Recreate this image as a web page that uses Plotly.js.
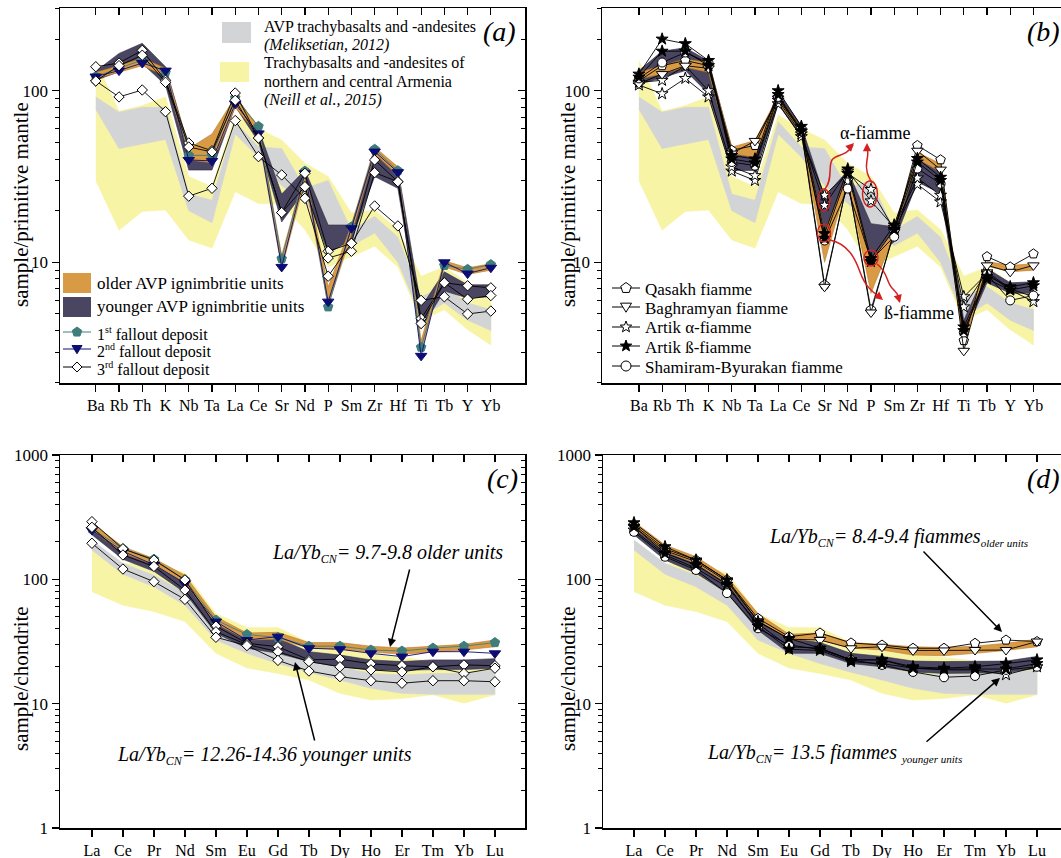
<!DOCTYPE html>
<html><head><meta charset="utf-8">
<script src="https://cdn.plot.ly/plotly-3.0.1.min.js"></script>
<style>html,body{margin:0;padding:0;overflow:hidden;background:#fff}#chart{width:1070px;height:858px}</style>
</head><body><div id="chart"></div>
<script>
// ---------- categories ----------
const cats_pm = ['Ba','Rb','Th','K','Nb','Ta','La','Ce','Sr','Nd','P','Sm','Zr','Hf','Ti','Tb','Y','Yb'];
const cats_ree = ['La','Ce','Pr','Nd','Sm','Eu','Gd','Tb','Dy','Ho','Er','Tm','Yb','Lu'];

// ---------- reference fields (primitive mantle) ----------
const neill_pm_upper = [150, 76, 82, 92, 31.6, 27.6, 72, 60, 51.6, 37.8, 31.6, 19.4, 20.2, 15.5, 8.3, 9.4, 7.6, 6.6];
const neill_pm_lower = [30, 15.4, 19.8, 20.2, 13.5, 12.1, 25.8, 22, 21.8, 15.5, 9.4, 10.8, 12.4, 9.4, 4.6, 5.3, 4.05, 3.3];
const melik_pm_upper = [92, 75, 80, 80, 25, 23, 66, 47, 46, 27, 30, 15.4, 18.5, 14, 6.3, 7.2, 5.8, 5.3];
const melik_pm_lower = [78, 46, 49, 52, 20, 17, 56, 41, 28, 22, 16.5, 12.5, 14.8, 10, 4.8, 5.8, 4.6, 4.0];

// ---------- panel (a) ----------
const older_a_upper = [128, 140, 155, 135, 46, 56, 92, 62, 11, 34, 7.2, 16.5, 47, 36, 3.5, 10.2, 9.3, 9.8];
const older_a_lower = [118, 128, 140, 122, 39.5, 38, 80, 55, 9.2, 30, 5.6, 14.5, 43, 32, 3.0, 9.4, 8.5, 9.0];
const younger_a_upper = [130, 165, 189, 138, 47, 46, 94, 60, 25, 34.5, 16.5, 16.5, 42, 35, 5.5, 8.8, 7.4, 7.4];
const younger_a_lower = [115, 129, 144, 108, 34.5, 34.5, 81, 50.5, 17.2, 26.4, 11.3, 13.5, 31.6, 27, 4.1, 6.8, 6.2, 6.3];
const fallout1_pm = [121, 135, 151, 128, 42, 42, 91, 62, 10.5, 34, 5.5, 16.1, 45.6, 34.2, 3.2, 9.6, 9.1, 9.7];
const fallout2_pm = [121, 131, 145, 131, 39.5, 39, 84, 56.4, 9.4, 33, 5.9, 15.8, 44.2, 33.5, 2.85, 10.0, 8.6, 9.3];
const fallout3a_pm = [138, 145, 172, 115, 49.6, 44.7, 97, 53, 19.5, 33, 11.6, 12.9, 39.5, 29.5, 4.7, 7.6, 7.3, 7.1];
const fallout3b_pm = [114, 140, 161, 112, 47, 44, 88, 53, 19.5, 27.6, 10.6, 11.6, 33.3, 29.5, 4.4, 7.6, 6.1, 6.4];
const fallout3c_pm = [114, 92, 101, 75.5, 24.3, 27, 67, 41.3, 32.3, 23.6, 8.3, 12.9, 21.3, 16.3, 6.0, 6.3, 5.0, 5.2];

// ---------- panel (b) ----------
const older_b_upper = [128, 140, 153, 146, 46.9, 51.3, 93.5, 60, 15, 32.9, 10.3, 15.4, 43.8, 37.5, 3.87, 10.1, 9.6, 9.8];
const older_b_lower = [117, 125, 137, 128, 42.9, 41, 85.6, 56, 10, 30, 6.6, 14.4, 40, 33.6, 3.2, 9.5, 8.8, 9.0];
const younger_b_upper = [131, 170, 178, 149, 46.9, 44.9, 97.8, 62.7, 24.1, 34.3, 16.8, 16.1, 42.9, 32.9, 4.6, 9.2, 7.6, 7.7];
const younger_b_lower = [109, 119, 131, 96, 34.3, 34.3, 83.7, 53.7, 13.4, 28.1, 9.9, 13.2, 29.4, 25.2, 3.7, 7.6, 6.6, 6.6];
const qasakh_pm = [114, 140, 150, 140, 45, 48, 92, 60, 7.4, 30, 5.3, 15, 48, 39.6, 3.5, 10.8, 9.4, 11.2];
const baghramyan_pm = [110, 125, 140, 135, 43, 51, 90, 58, 7.2, 30, 5.1, 15, 44.7, 34.7, 3.05, 9.6, 8.8, 9.6];
const artikAlpha1_pm = [108, 96, 118, 92, 34, 30, 84, 54, 24.6, 33, 26.6, 15.5, 28.5, 22.5, 6.3, 8.6, 6.9, 5.9];
const artikAlpha2_pm = [112, 115, 140, 100, 36, 32, 88, 56, 21.5, 34, 22.8, 16, 31, 24.6, 5.5, 8.8, 7.0, 6.3];
const artikBeta1_pm = [125, 200, 188, 150, 42, 40, 100, 62, 14.7, 35, 10.5, 16.5, 40.3, 31.3, 4.2, 8.3, 7.2, 7.6];
const artikBeta2_pm = [120, 170, 170, 140, 40, 38, 95, 58, 13.8, 33, 10.1, 15.5, 38.4, 30, 4.0, 8.0, 6.9, 7.3];
const shamiram_pm = [118, 146, 167, 145, 38.4, 36.6, 92, 58, 13.4, 26.9, 10.3, 14.1, 35.2, 28.7, 3.9, 8.5, 6.0, 6.4];

// ---------- reference fields (chondrite) ----------
const neill_ree_upper = [177, 134, 131, 113, 53, 41, 41, 31, 29, 25, 23.5, 22, 21.5, 23];
const neill_ree_lower = [79.6, 62, 55, 45.7, 25.4, 19.4, 17.5, 15.5, 12.1, 10.7, 11, 11.8, 10.1, 11.8];
const melik_ree_upper = [207, 134, 108, 77.5, 39, 30.6, 27, 23, 19.8, 17.5, 17, 17.5, 17.5, 18.7];
const melik_ree_lower = [172, 110, 87, 62, 32.5, 25.4, 21, 17.9, 15.5, 13.3, 12.1, 11.9, 11.9, 11.9];

// ---------- panel (c) ----------
const older_c_upper = [282, 183, 147, 108, 50, 37, 37.5, 31, 31, 29, 28, 29, 30, 32.5];
const older_c_lower = [249, 162, 131, 93, 44, 32.5, 33, 28, 27.4, 26, 25, 26, 27, 28.7];
const younger_c_upper = [275, 172, 143, 99, 47, 34.6, 33.5, 26.2, 24.6, 22.5, 21.8, 22.5, 22.5, 23];
const younger_c_lower = [228, 145, 116, 78, 36.8, 27.9, 25.4, 21.8, 19.8, 18.7, 18.5, 18.8, 18.8, 19.3];
const fallout1_ree = [255, 176, 145, 99, 47, 36, 34, 29, 29, 27, 26.5, 28, 29, 31];
const fallout2_ree = [249, 168, 131, 93, 45.7, 32.5, 34.6, 27.9, 27.4, 25.4, 23.9, 26.2, 26.2, 25.4];
const fallout3a_ree = [291, 176, 143, 99, 42, 30.6, 28.7, 22.5, 22.8, 20.9, 20.2, 19.8, 20.5, 20.2];
const fallout3b_ree = [262, 157, 127, 82, 37.9, 29.9, 26.2, 21.8, 19.8, 18.7, 18, 19.8, 17.5, 19.3];
const fallout3c_ree = [195, 121, 95.8, 69, 34.2, 29.3, 22.3, 18.3, 16.5, 15.3, 14.6, 15.3, 15.3, 15];

// ---------- panel (d) ----------
const older_d_upper = [291, 189, 152, 105, 53, 36.2, 37, 31, 30, 28.7, 28.3, 29, 30.6, 33];
const older_d_lower = [257, 167, 134, 93, 47, 32.5, 32.5, 28, 27, 24.6, 24.3, 25.4, 26.8, 28.7];
const younger_d_upper = [282, 176, 143, 99, 48.5, 33.5, 31, 25.4, 24, 22, 21.8, 21.8, 22, 24];
const younger_d_lower = [228, 143, 112, 77.5, 39, 25.4, 25.4, 21, 19.8, 18, 17.5, 17.7, 17.7, 19.3];
const qasakh_ree = [274, 176, 143, 99, 48.5, 34.6, 37, 30.8, 29.6, 27.9, 27.9, 30.6, 32.5, 31.6];
const baghramyan_ree = [265, 170, 139, 96, 46, 33, 32.5, 27.9, 28.7, 26.8, 26.8, 27, 27, 31.6];
const artikAlpha_ree = [249, 157, 123, 87, 44, 28.7, 27.9, 22.5, 22.5, 19.3, 18.7, 18.7, 17.1, 19.8];
const artikBeta1_ree = [285, 183, 143, 99, 45.7, 33.5, 27.9, 22.5, 22.5, 19.8, 19.3, 19.8, 21, 22.5];
const artikBeta2_ree = [265, 162, 131, 91, 42, 27.4, 26.8, 21.8, 21, 19.3, 19, 19, 19, 21];
const shamiram_ree = [241, 152, 119, 77.5, 40.4, 29.6, 27.4, 22.5, 20.5, 18, 16.3, 16.7, 18.7, 19.8];

// ---------- styling ----------
const W = 1070, H = 858;
const FONT = 'Liberation Serif';
const C_YELLOW = '#f8f4a6', C_GREY = '#d3d4d5', C_ORANGE = '#d99a45', C_PURPLE = '#4a4662';
const C_TEAL = '#3f7d7a', C_NAVY = '#0c0c72';
const PX = x => x / W, PY = y => 1 - y / H;

function band(xa, ya, cats, up, lo, color, edge) {
  return {type:'scatter', mode:'lines', x: cats.concat(cats.slice().reverse()),
    y: up.concat(lo.slice().reverse()), fill:'toself', fillcolor: color,
    line:{color: edge || color, width: 0.6}, xaxis: xa, yaxis: ya, hoverinfo:'skip', showlegend:false};
}
function series(xa, ya, cats, vals, sym, fillc, linec, mlinec, size) {
  return {type:'scatter', mode:'lines+markers', x: cats, y: vals, xaxis: xa, yaxis: ya,
    line:{color: linec, width: 0.9},
    marker:{symbol: sym, size: size, color: fillc, line:{color: mlinec, width: 1}},
    hoverinfo:'skip', showlegend:false, cliponaxis:false};
}

const traces = [];
// (a)
traces.push(band('x','y',cats_pm,neill_pm_upper,neill_pm_lower,C_YELLOW));
traces.push(band('x','y',cats_pm,melik_pm_upper,melik_pm_lower,C_GREY));
traces.push(band('x','y',cats_pm,younger_a_upper,younger_a_lower,C_PURPLE,'#2e2b40'));
traces.push(band('x','y',cats_pm,older_a_upper,older_a_lower,C_ORANGE,'#b87a2a'));
traces.push(series('x','y',cats_pm,fallout1_pm,'pentagon',C_TEAL,C_TEAL,C_TEAL,10));
traces.push(series('x','y',cats_pm,fallout2_pm,'triangle-down',C_NAVY,C_NAVY,C_NAVY,10));
traces.push(series('x','y',cats_pm,fallout3a_pm,'diamond','#ffffff','#000','#000',8));
traces.push(series('x','y',cats_pm,fallout3b_pm,'diamond','#ffffff','#000','#000',8));
traces.push(series('x','y',cats_pm,fallout3c_pm,'diamond','#ffffff','#000','#000',8));
// (b)
traces.push(band('x2','y2',cats_pm,neill_pm_upper,neill_pm_lower,C_YELLOW));
traces.push(band('x2','y2',cats_pm,melik_pm_upper,melik_pm_lower,C_GREY));
traces.push(band('x2','y2',cats_pm,younger_b_upper,younger_b_lower,C_PURPLE,'#2e2b40'));
traces.push(band('x2','y2',cats_pm,older_b_upper,older_b_lower,C_ORANGE,'#b87a2a'));
traces.push(series('x2','y2',cats_pm,artikAlpha1_pm,'star','#ffffff','#000','#000',9));
traces.push(series('x2','y2',cats_pm,artikAlpha2_pm,'star','#ffffff','#000','#000',9));
traces.push(series('x2','y2',cats_pm,qasakh_pm,'pentagon','#ffffff','#000','#000',10));
traces.push(series('x2','y2',cats_pm,baghramyan_pm,'triangle-down','#ffffff','#000','#000',10));
traces.push(series('x2','y2',cats_pm,shamiram_pm,'circle','#ffffff','#000','#000',9));
traces.push(series('x2','y2',cats_pm,artikBeta1_pm,'star','#000','#000','#000',9));
traces.push(series('x2','y2',cats_pm,artikBeta2_pm,'star','#000','#000','#000',9));
// (c)
traces.push(band('x3','y3',cats_ree,neill_ree_upper,neill_ree_lower,C_YELLOW));
traces.push(band('x3','y3',cats_ree,melik_ree_upper,melik_ree_lower,C_GREY));
traces.push(band('x3','y3',cats_ree,younger_c_upper,younger_c_lower,C_PURPLE,'#2e2b40'));
traces.push(band('x3','y3',cats_ree,older_c_upper,older_c_lower,C_ORANGE,'#b87a2a'));
traces.push(series('x3','y3',cats_ree,fallout1_ree,'pentagon',C_TEAL,C_TEAL,C_TEAL,10));
traces.push(series('x3','y3',cats_ree,fallout2_ree,'triangle-down',C_NAVY,C_NAVY,C_NAVY,10));
traces.push(series('x3','y3',cats_ree,fallout3a_ree,'diamond','#ffffff','#000','#000',8));
traces.push(series('x3','y3',cats_ree,fallout3b_ree,'diamond','#ffffff','#000','#000',8));
traces.push(series('x3','y3',cats_ree,fallout3c_ree,'diamond','#ffffff','#000','#000',8));
// (d)
traces.push(band('x4','y4',cats_ree,neill_ree_upper,neill_ree_lower,C_YELLOW));
traces.push(band('x4','y4',cats_ree,melik_ree_upper,melik_ree_lower,C_GREY));
traces.push(band('x4','y4',cats_ree,younger_d_upper,younger_d_lower,C_PURPLE,'#2e2b40'));
traces.push(band('x4','y4',cats_ree,older_d_upper,older_d_lower,C_ORANGE,'#b87a2a'));
traces.push(series('x4','y4',cats_ree,artikAlpha_ree,'star','#ffffff','#000','#000',9));
traces.push(series('x4','y4',cats_ree,qasakh_ree,'pentagon','#ffffff','#000','#000',10));
traces.push(series('x4','y4',cats_ree,baghramyan_ree,'triangle-down','#ffffff','#000','#000',10));
traces.push(series('x4','y4',cats_ree,shamiram_ree,'circle','#ffffff','#000','#000',9));
traces.push(series('x4','y4',cats_ree,artikBeta1_ree,'star','#000','#000','#000',9));
traces.push(series('x4','y4',cats_ree,artikBeta2_ree,'star','#000','#000','#000',9));

// dummy traces so the mirrored (top/right) overlay axes exist
for (let i = 1; i <= 4; i++) {
  const s = i === 1 ? '' : String(i);
  traces.push({type:'scatter', mode:'markers', x:[0], y:[null], xaxis:'x'+(i+4), yaxis:'y'+s, hoverinfo:'skip', showlegend:false, marker:{opacity:0}});
  traces.push({type:'scatter', mode:'markers', x:[null], y:[null], xaxis:'x'+s, yaxis:'y'+(i+4), hoverinfo:'skip', showlegend:false, marker:{opacity:0}});
}

// ---------- axes ----------
const panels = [
  {id:'',  px:[60,525],  py:[8,383],   cats:cats_pm,  xr:[-1.54,18.47], yr:[Math.log10(1.98), Math.log10(303.5)], major:[10,100],
   minor:[2,3,4,5,6,7,8,9,20,30,40,50,60,70,80,90,200,300]},
  {id:'2', px:[602,1068], py:[8,383],  cats:cats_pm,  xr:[-1.59,18.49], yr:[Math.log10(1.98), Math.log10(303.5)], major:[10,100],
   minor:[2,3,4,5,6,7,8,9,20,30,40,50,60,70,80,90,200,300]},
  {id:'3', px:[60,525],  py:[455,828], cats:cats_ree, xr:[-1.03,13.97], yr:[0,3], major:[1,10,100,1000],
   minor:[2,3,4,5,6,7,8,9,20,30,40,50,60,70,80,90,200,300,400,500,600,700,800,900]},
  {id:'4', px:[603,1068], py:[455,828], cats:cats_ree, xr:[-1.0,14.0], yr:[0,3], major:[1,10,100,1000],
   minor:[2,3,4,5,6,7,8,9,20,30,40,50,60,70,80,90,200,300,400,500,600,700,800,900]}
];
const layout = {
  width: W, height: H, margin:{l:0,r:0,t:0,b:0}, paper_bgcolor:'#fff', plot_bgcolor:'rgba(0,0,0,0)',
  showlegend:false, font:{family: FONT, color:'#000', size:16}, shapes:[], annotations:[]
};
panels.forEach((p, i) => {
  const dxr = [p.px[0]/W, p.px[1]/W], dyr = [1 - p.py[1]/H, 1 - p.py[0]/H];
  const k = i + 5;
  const common = {showline:true, linecolor:'#000', linewidth:1.5, showgrid:false, zeroline:false, tickcolor:'#000', tickwidth:1.2};
  layout['xaxis' + p.id] = Object.assign({}, common, {domain:dxr, anchor:'y'+p.id, type:'category',
    categoryorder:'array', categoryarray:p.cats, range:p.xr, ticks:'outside', ticklen:7, tickangle:0,
    tickfont:{family:FONT, size:16, color:'#000'}, fixedrange:true});
  layout['yaxis' + p.id] = Object.assign({}, common, {domain:dyr, anchor:'x'+p.id, type:'log', range:p.yr,
    tickmode:'array', tickvals:p.major, ticktext:p.major.map(String), ticks:'outside', ticklen:7,
    minor:{tickmode:'array', tickvals:p.minor, ticks:'outside', ticklen:4, tickcolor:'#000', tickwidth:1},
    tickfont:{family:FONT, size:17, color:'#000'}, fixedrange:true});
  layout['xaxis' + k] = Object.assign({}, common, {overlaying:'x'+p.id, anchor:'y'+p.id, side:'top', type:'linear',
    range:p.xr, tickmode:'array', tickvals:p.cats.map((c, j) => j), ticks:'inside', ticklen:7, showticklabels:false, fixedrange:true});
  layout['yaxis' + k] = Object.assign({}, common, {overlaying:'y'+p.id, anchor:'x'+p.id, side:'right', type:'log', range:p.yr,
    tickmode:'array', tickvals:p.major, ticks:'inside', ticklen:7, showticklabels:false,
    minor:{tickmode:'array', tickvals:p.minor, ticks:'inside', ticklen:4, tickcolor:'#000', tickwidth:1}, fixedrange:true});
});

// ---------- decoration helpers ----------
const A = layout.annotations, S = layout.shapes;
function txt(x, y, t, size, opts) {
  A.push(Object.assign({xref:'paper', yref:'paper', x:PX(x), y:PY(y), text:t, showarrow:false,
    xanchor:'left', yanchor:'middle', font:{family:FONT, size:size, color:'#000'}}, opts || {}));
}
function rect(x0, y0, x1, y1, color) {
  S.push({type:'rect', xref:'paper', yref:'paper', x0:PX(x0), x1:PX(x1), y0:PY(y1), y1:PY(y0), fillcolor:color, line:{width:0}});
}
function symPath(sym, cx, cy, r) {
  let pts = [];
  if (sym === 'diamond') pts = [[cx, cy - r], [cx + r, cy], [cx, cy + r], [cx - r, cy]];
  else if (sym === 'tri') pts = [[cx - r, cy - r * 0.7], [cx + r, cy - r * 0.7], [cx, cy + r * 0.95]];
  else if (sym === 'pent') for (let k = 0; k < 5; k++) { const a = (-90 + 72 * k) * Math.PI / 180; pts.push([cx + r * Math.cos(a), cy + r * Math.sin(a)]); }
  else if (sym === 'star') for (let k = 0; k < 10; k++) { const rr = k % 2 ? r * 0.42 : r; const a = (-90 + 36 * k) * Math.PI / 180; pts.push([cx + rr * Math.cos(a), cy + rr * Math.sin(a)]); }
  return 'M' + pts.map(p => PX(p[0]).toFixed(5) + ',' + PY(p[1]).toFixed(5)).join(' L') + ' Z';
}
function legendKey(x0, x1, y, lineColor, sym, fill, edge, r) {
  S.push({type:'line', xref:'paper', yref:'paper', x0:PX(x0), x1:PX(x1), y0:PY(y), y1:PY(y), line:{color:lineColor, width:1}});
  const cx = (x0 + x1) / 2;
  if (sym === 'circle') S.push({type:'circle', xref:'paper', yref:'paper', x0:PX(cx - r), x1:PX(cx + r), y0:PY(y + r), y1:PY(y - r), fillcolor:fill, line:{color:edge, width:1}});
  else S.push({type:'path', xref:'paper', yref:'paper', path:symPath(sym, cx, y, r), fillcolor:fill, line:{color:edge, width:1}});
}

// panel labels
txt(518, 31, '<i>(a)</i>', 28, {xanchor:'right'});
txt(1025, 31, '<i>(b)</i>', 28);
txt(485, 478, '<i>(c)</i>', 28);
txt(1025, 478, '<i>(d)</i>', 28);

// y titles
txt(21, 205, 'sample/primitive mantle', 21, {textangle:-90, xanchor:'center'});
txt(568, 205, 'sample/primitive mantle', 21, {textangle:-90, xanchor:'center'});
txt(21, 679, 'sample/chondrite', 21, {textangle:-90, xanchor:'center'});
txt(568, 679, 'sample/chondrite', 21, {textangle:-90, xanchor:'center'});

// (a) top-right legend
rect(222, 22, 251, 43, C_GREY);
txt(262, 27, 'AVP trachybasalts and -andesites', 16);
txt(262, 45, '<i>(Meliksetian, 2012)</i>', 16);
rect(220, 62, 249, 82, C_YELLOW);
txt(262, 63, 'Trachybasalts and -andesites of', 16);
txt(262, 82, 'northern and central Armenia', 16);
txt(262, 100, '<i>(Neill et al., 2015)</i>', 16);

// (a) bottom-left legend
const SUP = s => '<sup><span style="font-size:10px">' + s + '</span></sup>';
rect(63, 273, 91, 293, C_ORANGE);
txt(95, 283, 'older AVP ignimbritie units', 17);
rect(63, 297, 91, 317, C_PURPLE);
txt(95, 306, 'younger AVP ignimbritie units', 17);
legendKey(63, 91, 332, C_TEAL, 'pent', C_TEAL, C_TEAL, 5);
txt(95, 334, '1' + SUP('st') + ' fallout deposit', 16);
legendKey(63, 91, 349, C_NAVY, 'tri', C_NAVY, C_NAVY, 5);
txt(95, 351, '2' + SUP('nd') + ' fallout deposit', 16);
legendKey(63, 91, 367, '#000', 'diamond', '#fff', '#000', 5);
txt(95, 369, '3' + SUP('rd') + ' fallout deposit', 16);

// (b) legend
legendKey(612, 640, 288, '#000', 'pent', '#fff', '#000', 5.5);
txt(643, 289, 'Qasakh fiamme', 17);
legendKey(612, 640, 307, '#000', 'tri', '#fff', '#000', 5.5);
txt(643, 308, 'Baghramyan fiamme', 17);
legendKey(612, 640, 327, '#000', 'star', '#fff', '#000', 6);
txt(643, 328, 'Artik α-fiamme', 17);
legendKey(612, 640, 346, '#000', 'star', '#000', '#000', 6);
txt(643, 347, 'Artik ß-fiamme', 17);
legendKey(612, 640, 366, '#000', 'circle', '#fff', '#000', 5);
txt(643, 367, 'Shamiram-Byurakan fiamme', 17);

// (b) red highlights
const RED = '#d42020';
function ell(cx, cy, rx, ry) {
  S.push({type:'circle', xref:'paper', yref:'paper', x0:PX(cx - rx), x1:PX(cx + rx), y0:PY(cy + ry), y1:PY(cy - ry), line:{color:RED, width:1.4}});
}
function curve(pts) {
  const s = pts.map(p => PX(p[0]).toFixed(5) + ',' + PY(p[1]).toFixed(5));
  S.push({type:'path', xref:'paper', yref:'paper', path:'M' + s[0] + ' C' + s[1] + ' ' + s[2] + ' ' + s[3] + ' S' + s[4] + ' ' + s[5], line:{color:RED, width:1.5}});
}
function head(x, y, ax, ay, color, w) {
  A.push({xref:'paper', yref:'paper', x:PX(x), y:PY(y), ax:ax, ay:ay, text:'', showarrow:true, arrowhead:2, arrowsize:1.1, arrowwidth:w || 1.5, arrowcolor:color});
}
ell(824, 200, 6, 11); ell(824, 233, 6.5, 9); ell(870, 194, 7.5, 13); ell(871, 258, 7, 8);
curve([[825,189],[833,180],[828,166],[832,160],[846,157],[853,145]]);
head(854, 143, -5, 5, RED);
curve([[872,183],[868,176],[865,170],[867,160],[867,152],[867,146]]);
head(867, 143, 0, 7, RED);
curve([[830,240],[848,244],[855,258],[860,272],[872,292],[880,297]]);
head(883, 300, -6, -5, RED);
curve([[877,264],[888,272],[886,282],[892,288],[898,295],[899,300]]);
head(900, 303, -2, -7, RED);
txt(838, 133, 'α-fiamme', 18);
txt(882, 313, 'ß-fiamme', 18);

// (c) annotations
const CN = '<sub><span style="font-size:12px">CN</span></sub>';
txt(270, 553, '<i>La/Yb' + CN + '= 9.7-9.8 older units</i>', 20);
head(390, 647, 20, -79, '#000', 1.5);
txt(115, 755, '<i>La/Yb' + CN + '= 12.26-14.36 younger units</i>', 20);
head(295, 662, 20, 80, '#000', 1.5);

// (d) annotations
txt(767, 537, '<i>La/Yb' + CN + '= 8.4-9.4 fiammes<sub><span style="font-size:11px">older units</span></sub></i>', 20);
head(1002, 632, -80, -82, '#000', 1.5);
txt(705, 753, '<i>La/Yb' + CN + '= 13.5 fiammes <sub><span style="font-size:11px">younger units</span></sub></i>', 20);
head(1000, 678, -75, 65, '#000', 1.5);

Plotly.newPlot('chart', traces, layout, {displayModeBar:false, staticPlot:true});
</script></body></html>
